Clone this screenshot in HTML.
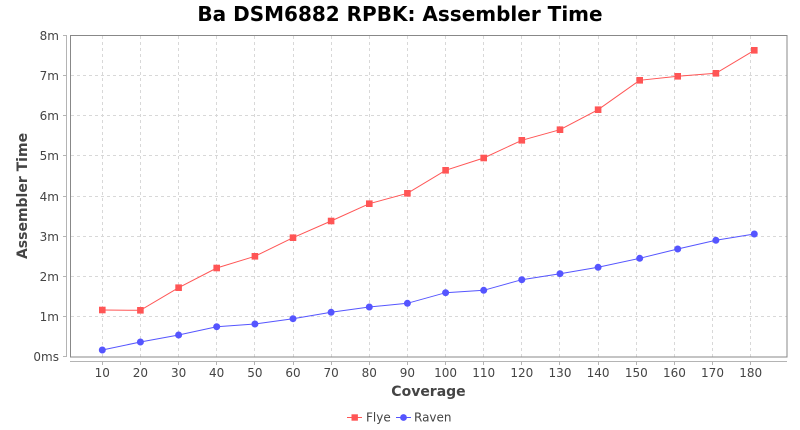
<!DOCTYPE html>
<html><head><meta charset="utf-8"><style>
html,body{margin:0;padding:0;background:#fff;}
svg{display:block;font-family:"DejaVu Sans","Liberation Sans",sans-serif;}
</style></head><body>
<svg width="800" height="430" viewBox="0 0 800 430" xmlns="http://www.w3.org/2000/svg">
<rect x="0" y="0" width="800" height="430" fill="#fff"/>
<text x="400" y="21" text-anchor="middle" font-size="20" font-weight="bold" fill="#000">Ba DSM6882 RPBK: Assembler Time</text>
<rect x="70.5" y="35.5" width="716.5" height="321.5" fill="#fff"/>
<g stroke="#d8d8d8" stroke-width="1" stroke-dasharray="3,3">
<line x1="71" y1="316.5" x2="787" y2="316.5"/>
<line x1="71" y1="276.5" x2="787" y2="276.5"/>
<line x1="71" y1="236.5" x2="787" y2="236.5"/>
<line x1="71" y1="196.5" x2="787" y2="196.5"/>
<line x1="71" y1="155.5" x2="787" y2="155.5"/>
<line x1="71" y1="115.5" x2="787" y2="115.5"/>
<line x1="71" y1="75.5" x2="787" y2="75.5"/>
<line x1="102.5" y1="36" x2="102.5" y2="357"/>
<line x1="140.5" y1="36" x2="140.5" y2="357"/>
<line x1="178.5" y1="36" x2="178.5" y2="357"/>
<line x1="216.5" y1="36" x2="216.5" y2="357"/>
<line x1="254.5" y1="36" x2="254.5" y2="357"/>
<line x1="293.5" y1="36" x2="293.5" y2="357"/>
<line x1="331.5" y1="36" x2="331.5" y2="357"/>
<line x1="369.5" y1="36" x2="369.5" y2="357"/>
<line x1="407.5" y1="36" x2="407.5" y2="357"/>
<line x1="445.5" y1="36" x2="445.5" y2="357"/>
<line x1="483.5" y1="36" x2="483.5" y2="357"/>
<line x1="521.5" y1="36" x2="521.5" y2="357"/>
<line x1="559.5" y1="36" x2="559.5" y2="357"/>
<line x1="598.5" y1="36" x2="598.5" y2="357"/>
<line x1="636.5" y1="36" x2="636.5" y2="357"/>
<line x1="674.5" y1="36" x2="674.5" y2="357"/>
<line x1="712.5" y1="36" x2="712.5" y2="357"/>
<line x1="750.5" y1="36" x2="750.5" y2="357"/>
</g>
<rect x="70.5" y="35.5" width="716.5" height="321.5" fill="none" stroke="#888" stroke-width="1"/>
<!-- axes -->
<g stroke="#b4b4b4" stroke-width="1">
<line x1="66.5" y1="35" x2="66.5" y2="357"/>
<line x1="70" y1="361.5" x2="787" y2="361.5"/>
<line x1="63" y1="356.5" x2="66" y2="356.5"/>
<line x1="63" y1="316.5" x2="66" y2="316.5"/>
<line x1="63" y1="276.5" x2="66" y2="276.5"/>
<line x1="63" y1="236.5" x2="66" y2="236.5"/>
<line x1="63" y1="196.5" x2="66" y2="196.5"/>
<line x1="63" y1="155.5" x2="66" y2="155.5"/>
<line x1="63" y1="115.5" x2="66" y2="115.5"/>
<line x1="63" y1="75.5" x2="66" y2="75.5"/>
<line x1="63" y1="35.5" x2="66" y2="35.5"/>
<line x1="102.5" y1="362" x2="102.5" y2="365"/>
<line x1="140.5" y1="362" x2="140.5" y2="365"/>
<line x1="178.5" y1="362" x2="178.5" y2="365"/>
<line x1="216.5" y1="362" x2="216.5" y2="365"/>
<line x1="254.5" y1="362" x2="254.5" y2="365"/>
<line x1="293.5" y1="362" x2="293.5" y2="365"/>
<line x1="331.5" y1="362" x2="331.5" y2="365"/>
<line x1="369.5" y1="362" x2="369.5" y2="365"/>
<line x1="407.5" y1="362" x2="407.5" y2="365"/>
<line x1="445.5" y1="362" x2="445.5" y2="365"/>
<line x1="483.5" y1="362" x2="483.5" y2="365"/>
<line x1="521.5" y1="362" x2="521.5" y2="365"/>
<line x1="559.5" y1="362" x2="559.5" y2="365"/>
<line x1="598.5" y1="362" x2="598.5" y2="365"/>
<line x1="636.5" y1="362" x2="636.5" y2="365"/>
<line x1="674.5" y1="362" x2="674.5" y2="365"/>
<line x1="712.5" y1="362" x2="712.5" y2="365"/>
<line x1="750.5" y1="362" x2="750.5" y2="365"/>
</g>
<g font-size="12" fill="#444" text-anchor="end">
<text x="59" y="361">0ms</text>
<text x="59" y="321">1m</text>
<text x="59" y="281">2m</text>
<text x="59" y="241">3m</text>
<text x="59" y="201">4m</text>
<text x="59" y="160">5m</text>
<text x="59" y="120">6m</text>
<text x="59" y="80">7m</text>
<text x="59" y="40">8m</text>
</g>
<g font-size="12" fill="#444" text-anchor="middle">
<text x="102.3" y="377">10</text>
<text x="140.4" y="377">20</text>
<text x="178.6" y="377">30</text>
<text x="216.7" y="377">40</text>
<text x="254.9" y="377">50</text>
<text x="293" y="377">60</text>
<text x="331.1" y="377">70</text>
<text x="369.3" y="377">80</text>
<text x="407.4" y="377">90</text>
<text x="445.6" y="377">100</text>
<text x="483.7" y="377">110</text>
<text x="521.8" y="377">120</text>
<text x="560" y="377">130</text>
<text x="598.1" y="377">140</text>
<text x="636.3" y="377">150</text>
<text x="674.4" y="377">160</text>
<text x="712.5" y="377">170</text>
<text x="750.7" y="377">180</text>
</g>
<text x="428.5" y="396" text-anchor="middle" font-size="14" font-weight="bold" fill="#444">Coverage</text>
<text transform="translate(27,196) rotate(-90)" text-anchor="middle" font-size="14" font-weight="bold" fill="#444">Assembler Time</text>
<!-- Flye -->
<polyline fill="none" stroke="#ff5555" stroke-width="1" points="102.3,310 140.4,310.3 178.6,287.7 216.7,268 254.9,256.3 293,237.7 331.1,221 369.3,203.7 407.4,193.3 445.6,170.3 483.7,158 521.8,140.3 560,129.7 598.1,109.7 639.7,80.3 677.7,76.3 715.9,73.3 754.3,50.3"/>
<g fill="#ff5555">
<rect x="99" y="306.7" width="6.6" height="6.6"/>
<rect x="137.1" y="307" width="6.6" height="6.6"/>
<rect x="175.3" y="284.4" width="6.6" height="6.6"/>
<rect x="213.4" y="264.7" width="6.6" height="6.6"/>
<rect x="251.6" y="253" width="6.6" height="6.6"/>
<rect x="289.7" y="234.4" width="6.6" height="6.6"/>
<rect x="327.8" y="217.7" width="6.6" height="6.6"/>
<rect x="366" y="200.4" width="6.6" height="6.6"/>
<rect x="404.1" y="190" width="6.6" height="6.6"/>
<rect x="442.3" y="167" width="6.6" height="6.6"/>
<rect x="480.4" y="154.7" width="6.6" height="6.6"/>
<rect x="518.5" y="137" width="6.6" height="6.6"/>
<rect x="556.7" y="126.4" width="6.6" height="6.6"/>
<rect x="594.8" y="106.4" width="6.6" height="6.6"/>
<rect x="636.4" y="77" width="6.6" height="6.6"/>
<rect x="674.4" y="73" width="6.6" height="6.6"/>
<rect x="712.6" y="70" width="6.6" height="6.6"/>
<rect x="751" y="47" width="6.6" height="6.6"/>
</g>
<!-- Raven -->
<polyline fill="none" stroke="#5555ff" stroke-width="1" points="102.3,350 140.4,342 178.6,335 216.7,326.7 254.9,324 293,318.7 331.1,312.3 369.3,307 407.4,303.3 445.6,292.7 483.7,290.3 521.8,279.7 560,273.7 598.1,267.3 639.7,258.3 677.7,249 715.9,240.3 754.3,234"/>
<g fill="#5555ff">
<circle cx="102.3" cy="350" r="3.5"/>
<circle cx="140.4" cy="342" r="3.5"/>
<circle cx="178.6" cy="335" r="3.5"/>
<circle cx="216.7" cy="326.7" r="3.5"/>
<circle cx="254.9" cy="324" r="3.5"/>
<circle cx="293" cy="318.7" r="3.5"/>
<circle cx="331.1" cy="312.3" r="3.5"/>
<circle cx="369.3" cy="307" r="3.5"/>
<circle cx="407.4" cy="303.3" r="3.5"/>
<circle cx="445.6" cy="292.7" r="3.5"/>
<circle cx="483.7" cy="290.3" r="3.5"/>
<circle cx="521.8" cy="279.7" r="3.5"/>
<circle cx="560" cy="273.7" r="3.5"/>
<circle cx="598.1" cy="267.3" r="3.5"/>
<circle cx="639.7" cy="258.3" r="3.5"/>
<circle cx="677.7" cy="249" r="3.5"/>
<circle cx="715.9" cy="240.3" r="3.5"/>
<circle cx="754.3" cy="234" r="3.5"/>
</g>
<!-- legend -->
<line x1="347" y1="417.5" x2="362" y2="417.5" stroke="#ff5555" stroke-width="1"/>
<rect x="351.5" y="414.3" width="6.4" height="6.4" fill="#ff5555"/>
<text x="366" y="421.5" font-size="12" fill="#444">Flye</text>
<line x1="396" y1="417.5" x2="411" y2="417.5" stroke="#5555ff" stroke-width="1"/>
<circle cx="403.5" cy="417.5" r="3.4" fill="#5555ff"/>
<text x="414" y="421.5" font-size="12" fill="#444">Raven</text>
</svg>
</body></html>
